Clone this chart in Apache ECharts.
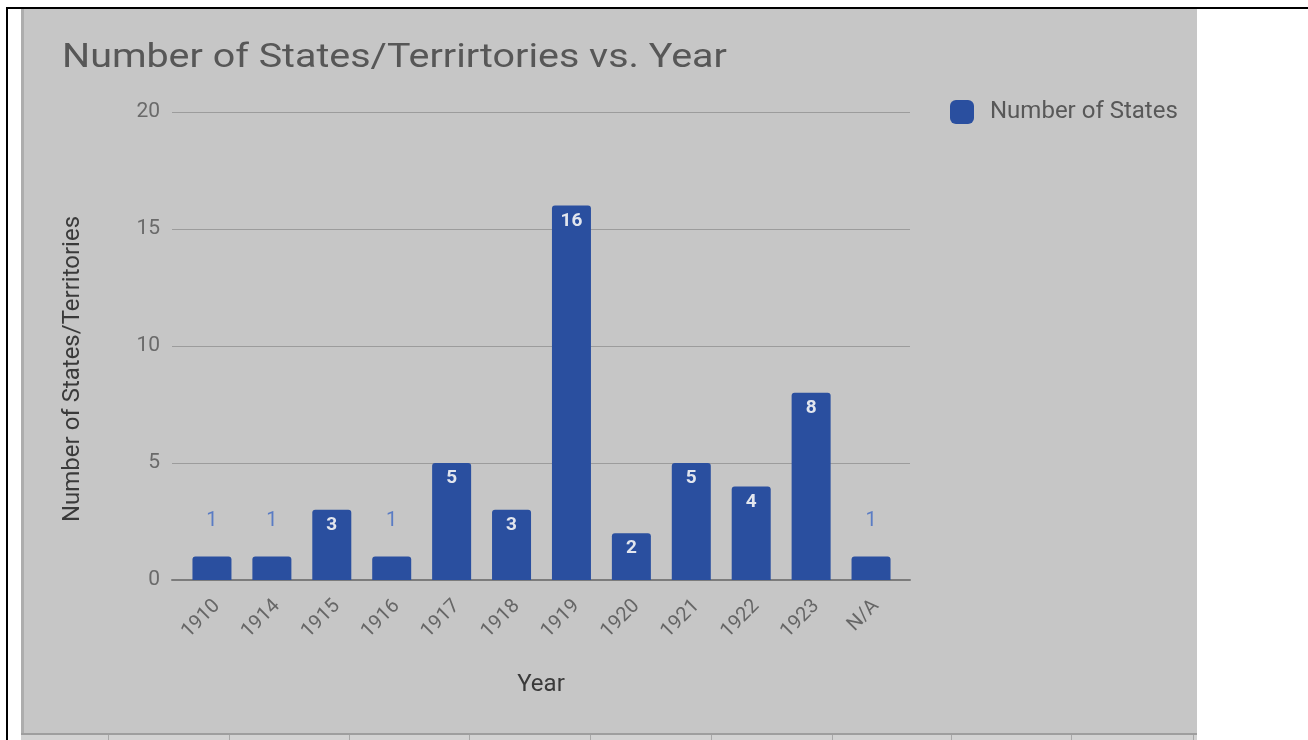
<!DOCTYPE html>
<html>
<head>
<meta charset="utf-8">
<script src="https://cdn.jsdelivr.net/npm/echarts@6/dist/echarts.min.js"></script>
<style>
html,body{margin:0;padding:0;background:#fff;}
#c{width:1308px;height:740px;}
</style>
</head>
<body>
<div id="c"></div>
<script>
const categories = ['1910','1914','1915','1916','1917','1918','1919','1920','1921','1922','1923','N/A'];
const numberOfStates = [1,1,3,1,5,3,16,2,5,4,8,1];
const yTicks = [0,5,10,15,20];
const titleText = 'Number of States/Terrirtories vs. Year';
const seriesName = 'Number of States';
const xName = 'Year';
const yName = 'Number of States/Territories';

const FONT = 'Roboto';
const BAR = '#2a4f9f';

const chart = echarts.init(document.getElementById('c'), null, {renderer:'canvas'});

const barData = numberOfStates.map(v => {
  const small = v < 2;
  return {
    value: v,
    label: small ? {
      position: 'top', distance: 26, color: '#5a7cc4', fontWeight: 'normal', fontSize: 20
    } : {
      position: 'insideTop', distance: 6, color: '#e2e6ee', fontWeight: 'bold', fontSize: 19
    }
  };
});

const bottomTicks = [108, 229, 349, 469, 590, 711, 832, 951, 1071, 1193];

chart.setOption({
  backgroundColor: '#ffffff',
  animation: false,
  textStyle: { fontFamily: FONT },
  graphic: { elements: [
    { type:'rect', z:-10, shape:{x:21,y:9,width:1176,height:725}, style:{fill:'#c6c6c6'} },
    { type:'rect', z:-9, shape:{x:21,y:9,width:3,height:725}, style:{fill:'#adadad'} },
    { type:'rect', z:-9, shape:{x:21,y:733,width:1176,height:2}, style:{fill:'#9e9e9e'} },
    { type:'rect', z:-9, shape:{x:21,y:735,width:1176,height:5}, style:{fill:'#d2d2d2'} },
    ...bottomTicks.map(x => ({ type:'rect', z:-8, shape:{x:x,y:735,width:1,height:5}, style:{fill:'#a8a8a8'} })),
    { type:'rect', z:-7, shape:{x:6,y:7,width:1302,height:2}, style:{fill:'#000'} },
    { type:'rect', z:-7, shape:{x:6,y:7,width:2,height:733}, style:{fill:'#000'} },
    { type:'text', z:10, x:62, y:41, scaleX:1.16, originX:0, originY:0,
      style:{ text: titleText, fontFamily: FONT, fontSize: 34, fill:'#575757', align:'left', verticalAlign:'top' } }
  ]},
  legend: {
    data: [seriesName],
    left: 950, top: 100, padding: 0,
    itemWidth: 24, itemHeight: 24,
    icon: 'roundRect',
    textStyle: { fontFamily: FONT, fontSize: 24, color: '#585858', padding: [0,0,0,11] }
  },
  grid: [
    { left: 172, right: 398, top: 112, bottom: 160, containLabel: false },
    { left: 182, right: 407, top: 112, bottom: 160, containLabel: false },
    { left: 187, right: 402, top: 112, bottom: 160, containLabel: false }
  ],
  xAxis: [
    { type: 'value', gridIndex: 0, min: 0, max: 1, show: true,
      axisLine: { show: true, onZero: false, lineStyle: { color: '#7c7c7c', width: 2 } },
      axisTick: { show: false }, axisLabel: { show: false }, splitLine: { show: false },
      name: xName, nameLocation: 'middle', nameGap: 93,
      nameTextStyle: { fontFamily: FONT, fontSize: 24, color: '#3a3a3a' }
    },
    { type: 'category', gridIndex: 1, data: categories,
      axisLine: { show: false }, axisTick: { show: false }, axisLabel: { show: false }
    },
    { type: 'category', gridIndex: 2, data: categories,
      axisLine: { show: false }, axisTick: { show: false },
      axisLabel: { rotate: 45, margin: 23, fontFamily: FONT, fontSize: 20, color: '#666666', interval: 0 }
    }
  ],
  yAxis: [
    { type: 'value', gridIndex: 0, min: yTicks[0], max: yTicks[yTicks.length-1], interval: 5,
      axisLine: { show: false }, axisTick: { show: false },
      axisLabel: { margin: 12, fontFamily: FONT, fontSize: 21, color: '#6a6a6a' },
      splitLine: { lineStyle: { color: '#9c9c9c', width: 1 } },
      name: yName, nameLocation: 'middle', nameGap: 87,
      nameTextStyle: { fontFamily: FONT, fontSize: 24, color: '#3a3a3a', padding: [0, 46, 0, 0] }
    },
    { type: 'value', gridIndex: 1, min: yTicks[0], max: yTicks[yTicks.length-1], interval: 5, show: false },
    { type: 'value', gridIndex: 2, min: yTicks[0], max: yTicks[yTicks.length-1], interval: 5, show: false }
  ],
  series: [{
    name: seriesName,
    type: 'bar',
    xAxisIndex: 1, yAxisIndex: 1,
    data: barData,
    barWidth: 39,
    itemStyle: { color: BAR, borderRadius: [3,3,0,0] },
    label: { show: true, fontFamily: FONT, fontSize: 19 },
    z: 3
  }]
});
</script>
</body>
</html>
